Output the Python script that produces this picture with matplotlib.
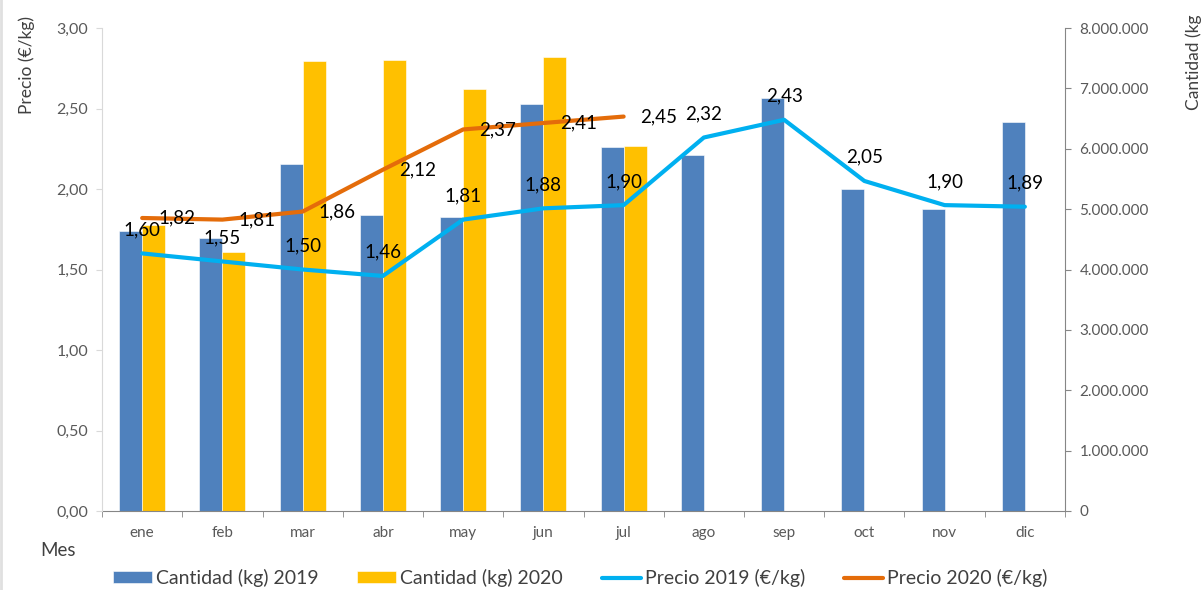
import matplotlib.pyplot as plt
import numpy as np
from matplotlib.ticker import FuncFormatter, FixedLocator

MESES = ["ene", "feb", "mar", "abr", "may", "jun", "jul", "ago", "sep", "oct", "nov", "dic"]
CANTIDAD_2019 = [4.64e6, 4.52e6, 5.75e6, 4.90e6, 4.87e6, 6.74e6, 6.03e6, 5.89e6, 6.84e6, 5.33e6, 5.00e6, 6.44e6]
CANTIDAD_2020 = [4.73e6, 4.29e6, 7.45e6, 7.47e6, 6.99e6, 7.52e6, 6.04e6]
PRECIO_2019 = [1.60, 1.55, 1.50, 1.46, 1.81, 1.88, 1.90, 2.32, 2.43, 2.05, 1.90, 1.89]
PRECIO_2020 = [1.82, 1.81, 1.86, 2.12, 2.37, 2.41, 2.45]

plt.rcParams["font.family"] = ["Lato", "DejaVu Sans"]

fig = plt.figure(figsize=(12.02, 5.90), dpi=100)
ax = fig.add_axes([0.0849, 0.1339, 0.8011, 0.8186])
ax2 = ax.twinx()

x = np.arange(len(MESES))
x20 = np.arange(len(CANTIDAD_2020))
width = 0.287

# quantities on the right-hand scale
ax.bar(x - width / 2, CANTIDAD_2019, width, color="#4F81BD", edgecolor="white", linewidth=0.4,
       label="Cantidad (kg) 2019", zorder=2)
ax.bar(x20 + width / 2, CANTIDAD_2020, width, color="#FFC000", edgecolor="white", linewidth=0.4,
       label="Cantidad (kg) 2020", zorder=2)
ax.set_ylim(0, 8e6)
ax.set_xlim(-0.5, len(MESES) - 0.5)
ax.yaxis.tick_right()
ax.yaxis.set_major_locator(FixedLocator(np.arange(0, 8e6 + 1, 1e6)))
ax.yaxis.set_major_formatter(FuncFormatter(lambda v, p: f"{int(v):,}".replace(",", ".")))
ax.tick_params(axis="y", colors="#868686", labelcolor="#595959", labelsize=11, length=4, pad=6.5, direction="out")
ax.set_xticks(x)
ax.set_xticklabels(MESES)
ax.set_xticks(np.arange(-0.5, len(MESES)), minor=True)
ax.tick_params(axis="x", which="major", length=0, pad=11, labelsize=11, labelcolor="#595959")
ax.tick_params(axis="x", which="minor", length=4.5, color="#868686", direction="out")
for side in ["top", "left"]:
    ax.spines[side].set_visible(False)
ax.spines["bottom"].set_color("#868686")
ax.spines["right"].set_color("#868686")

# prices on the left-hand scale
l19, = ax2.plot(x, PRECIO_2019, color="#00B0F0", linewidth=3, solid_capstyle="round",
                label="Precio 2019 (€/kg)", zorder=3)
l20, = ax2.plot(x20, PRECIO_2020, color="#E46C0A", linewidth=3, solid_capstyle="round",
                label="Precio 2020 (€/kg)", zorder=3)
ax2.set_ylim(0, 3)
ax2.yaxis.tick_left()
ax2.yaxis.set_major_locator(FixedLocator(np.arange(0, 3.01, 0.5)))
ax2.yaxis.set_major_formatter(FuncFormatter(lambda v, p: f"{v:.2f}".replace(".", ",")))
ax2.tick_params(axis="y", colors="#D9D9D9", labelcolor="#595959", labelsize=11.5, length=4, pad=6, direction="out")
for side in ["top", "right", "bottom"]:
    ax2.spines[side].set_visible(False)
ax2.spines["left"].set_color("#D9D9D9")

for xi, v in zip(x, PRECIO_2019):
    ax2.annotate(f"{v:.2f}".replace(".", ","), (xi, v), xytext=(0, 17), textcoords="offset points",
                 ha="center", va="center", fontsize=13.5, color="black", zorder=4)
for xi, v in zip(x20, PRECIO_2020):
    ax2.annotate(f"{v:.2f}".replace(".", ","), (xi, v), xytext=(25, 0), textcoords="offset points",
                 ha="center", va="center", fontsize=13.5, color="black", zorder=4)

fig.text(27 / 1202, 1 - 65 / 590, "Precio (€/kg)", rotation=90, ha="center", va="center",
         fontsize=12.5, color="#404040")
fig.text(1194 / 1202, 1 - 62 / 590, "Cantidad (kg", rotation=90, ha="center", va="center",
         fontsize=12.5, color="#404040")
fig.text(58 / 1202, 1 - 550 / 590, "Mes", ha="center", va="center", fontsize=13.5, color="#404040")

handles = ax.get_legend_handles_labels()[0] + [l19, l20]
labels = ["Cantidad (kg) 2019", "Cantidad (kg) 2020", "Precio 2019 (€/kg)", "Precio 2020 (€/kg)"]
fig.legend(handles, labels, loc="center", bbox_to_anchor=(580 / 1202, 1 - 578 / 590), ncol=4,
           frameon=False, fontsize=14, handlelength=2.0, handleheight=0.6, handletextpad=0.2,
           columnspacing=2.0, labelcolor="#404040", borderpad=0)

fig.add_artist(plt.Line2D([1 / 1202, 1 / 1202], [0, 1], color="#E0E0E0", linewidth=2))

fig.savefig("out.png", dpi=100)
